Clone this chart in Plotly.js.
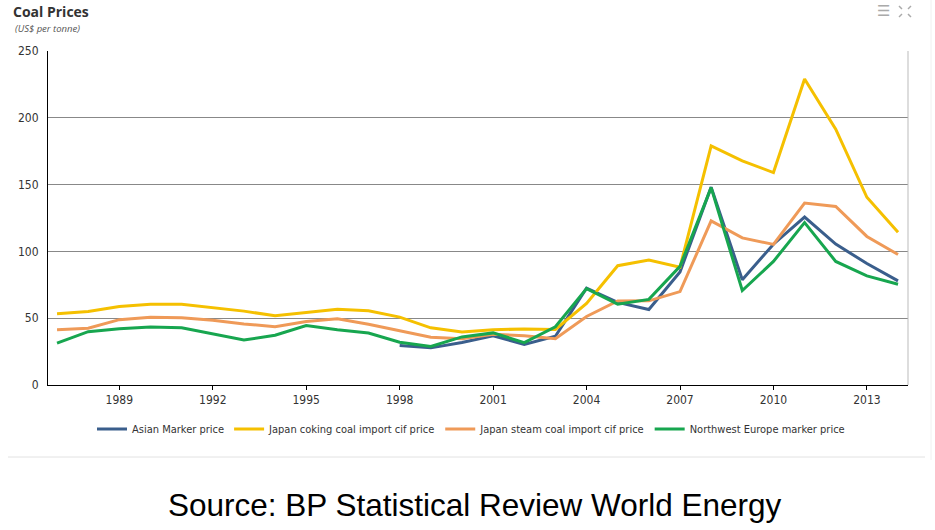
<!DOCTYPE html>
<html>
<head>
<meta charset="utf-8">
<script src="https://cdn.plot.ly/plotly-3.0.1.min.js"></script>
<style>
html,body{margin:0;padding:0;background:#fff;}
#chart{width:935px;height:530px;}
</style>
</head>
<body>
<div id="chart"></div>
<script>
const years = [1987,1988,1989,1990,1991,1992,1993,1994,1995,1996,1997,1998,1999,2000,2001,2002,2003,2004,2005,2006,2007,2008,2009,2010,2011,2012,2013,2014];
const asianYears = [1998,1999,2000,2001,2002,2003,2004,2005,2006,2007,2008,2009,2010,2011,2012,2013,2014];
const asianMarker = [29.5,27.8,31.8,36.9,30.4,36.5,72.4,61.8,56.5,84.6,148.1,78.8,105.4,125.7,105.5,90.9,77.9];
const japanCoking = [53.4,55.1,58.7,60.5,60.5,57.8,55.3,51.8,54.5,56.7,55.5,50.8,42.8,39.7,41.3,42.0,41.6,61.0,89.3,93.5,88.2,179.0,167.8,159.0,229.1,191.5,140.5,114.4];
const japanSteam = [41.3,42.5,48.9,50.8,50.3,48.5,45.7,43.7,47.6,49.5,45.5,40.5,35.7,34.6,38.0,36.9,34.7,51.3,62.9,63.0,69.9,122.8,110.1,105.2,136.2,133.6,111.2,97.7];
const nwEurope = [31.3,39.9,42.1,43.5,42.8,38.5,33.7,37.2,44.5,41.3,38.9,32.0,28.8,36.0,39.0,31.7,43.6,72.1,60.5,64.1,88.8,147.7,70.7,92.5,121.5,92.5,81.7,75.4];
const seriesNames = ["Asian Marker price","Japan coking coal import cif price","Japan steam coal import cif price","Northwest Europe marker price"];
const yTicks = [0,50,100,150,200,250];
const xTicks = [1989,1992,1995,1998,2001,2004,2007,2010,2013];

const colors = ["#3A5E8C","#F5C000","#EF9A58","#17A64F"];
const tickFont = {family:"'Liberation Sans Narrow','DejaVu Sans Condensed',sans-serif", size:12, color:"#333"};

const traces = [
  {x:asianYears, y:asianMarker, name:seriesNames[0]},
  {x:years, y:japanCoking, name:seriesNames[1]},
  {x:years, y:japanSteam, name:seriesNames[2]},
  {x:years, y:nwEurope, name:seriesNames[3]}
].map((t,i)=>Object.assign(t,{type:"scatter",mode:"lines",line:{color:colors[i],width:3},hoverinfo:"x+y+name"}));

// pixel helpers for decorations (plot area 48..908 x, 51..385 y)
const px = x => (x-48)/860;
const py = y => (385-y)/334;

const shapes = [
  {type:"line",xref:"paper",yref:"paper",x0:1,x1:1,y0:0,y1:1,line:{color:"#bbbbbb",width:1}},
  {type:"line",xref:"paper",yref:"paper",x0:px(8),x1:px(925),y0:py(457),y1:py(457),line:{color:"#e2e2e2",width:1}},
  {type:"line",xref:"paper",yref:"paper",x0:px(931),x1:px(931),y0:py(0),y1:py(460),line:{color:"#f0f0f0",width:1}},
  // expand icon
  {type:"line",xref:"paper",yref:"paper",x0:px(899),x1:px(902),y0:py(6),y1:py(9),line:{color:"#aaa",width:1.5}},
  {type:"line",xref:"paper",yref:"paper",x0:px(911),x1:px(908),y0:py(6),y1:py(9),line:{color:"#aaa",width:1.5}},
  {type:"line",xref:"paper",yref:"paper",x0:px(899),x1:px(902),y0:py(17),y1:py(14),line:{color:"#aaa",width:1.5}},
  {type:"line",xref:"paper",yref:"paper",x0:px(911),x1:px(908),y0:py(17),y1:py(14),line:{color:"#aaa",width:1.5}}
];

const layout = {
  width:935, height:530,
  margin:{l:48,r:27,t:51,b:145,pad:0},
  paper_bgcolor:"#fff", plot_bgcolor:"#fff",
  title:{text:"<b>Coal Prices</b>", x:13/935, xanchor:"left", xref:"container", y:1-12/530, yanchor:"middle", yref:"container",
         font:{family:"'Open Sans',sans-serif", size:14, color:"#333"}},
  xaxis:{range:[1986.71,2014.32], tickvals:xTicks, ticktext:xTicks.map(String), ticks:"outside", ticklen:4, tickcolor:"#000",
         showline:true, linecolor:"#000", linewidth:1, showgrid:false, zeroline:false, tickfont:tickFont},
  yaxis:{range:[0,250], tickvals:yTicks, showline:true, linecolor:"#000", linewidth:1, showgrid:true, gridcolor:"#888", gridwidth:1,
         zeroline:false, ticks:"", tickfont:tickFont, ticklabelstandoff:6},
  showlegend:true,
  legend:{orientation:"h", x:px(471), xanchor:"center", y:py(429), yanchor:"middle", font:{family:"'Liberation Sans Narrow','DejaVu Sans Condensed',sans-serif", size:11, color:"#333"},
          itemwidth:30, tracegroupgap:0, bgcolor:"rgba(0,0,0,0)"},
  shapes:shapes,
  annotations:[
    {text:"<i>(US$ per tonne)</i>", xref:"paper", yref:"paper", x:px(13), y:py(28), xanchor:"left", yanchor:"middle", showarrow:false,
     font:{family:"'Open Sans',sans-serif", size:9.5, color:"#555"}},
    {text:"Source: BP Statistical Review World Energy", xref:"paper", yref:"paper", x:px(475), y:py(505), xanchor:"center", yanchor:"middle", showarrow:false,
     font:{family:"'Liberation Sans',Arial,sans-serif", size:31.5, color:"#000"}},
    {text:"☰", xref:"paper", yref:"paper", x:px(883), y:py(11), xanchor:"center", yanchor:"middle", showarrow:false,
     font:{family:"'DejaVu Sans',sans-serif", size:15, color:"#aaa"}}
  ]
};

Plotly.newPlot("chart", traces, layout, {displayModeBar:false, responsive:false});
</script>
</body>
</html>
